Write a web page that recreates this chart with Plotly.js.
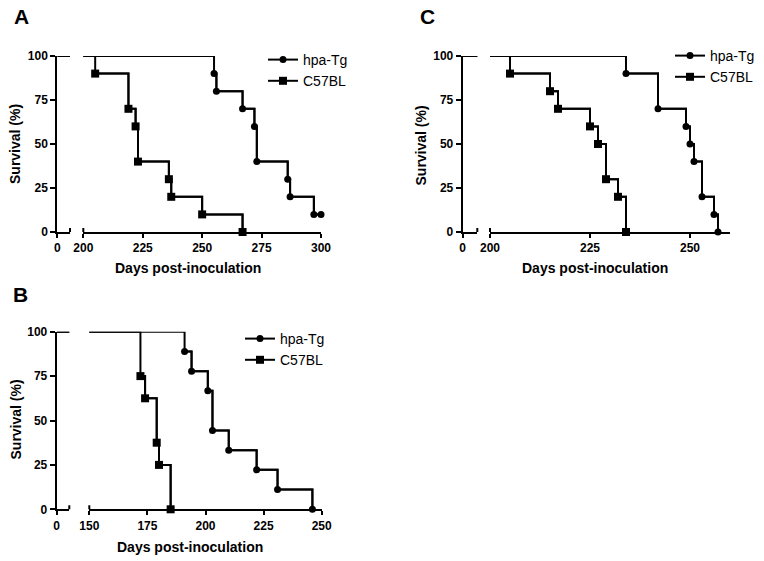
<!DOCTYPE html>
<html>
<head>
<meta charset="utf-8">
<script src="https://cdn.plot.ly/plotly-3.0.1.min.js"></script>
<style>html,body{margin:0;padding:0;background:#fff}#chart{width:764px;height:561px}</style>
</head>
<body>
<div id="chart"></div>
<script>
// ---------- DATA ----------
const seriesNames = ["hpa-Tg", "C57BL"];
const yTicks = [0, 25, 50, 75, 100];

// Panel A
const A_hpa_days = [0, 255, 256, 267, 272, 273, 286, 287, 297, 300];
const A_hpa_surv = [100, 90, 80, 70, 60, 40, 30, 20, 10, 10];
const A_c57_days = [0, 205, 219, 222, 223, 236, 237, 250, 267];
const A_c57_surv = [100, 90, 70, 60, 40, 30, 20, 10, 0];
const A_xTicks = [200, 225, 250, 275, 300];

// Panel B
const B_hpa_days = [0, 191, 194, 201, 203, 210, 222, 231, 246];
const B_hpa_surv = [100, 88.9, 77.8, 66.7, 44.4, 33.3, 22.2, 11.1, 0];
const B_c57_days = [0, 172, 174, 179, 180, 185];
const B_c57_surv = [100, 75, 62.5, 37.5, 25, 0];
const B_xTicks = [150, 175, 200, 225, 250];

// Panel C
const C_hpa_days = [0, 234, 242, 249, 250, 251, 253, 256, 257];
const C_hpa_surv = [100, 90, 70, 60, 50, 40, 20, 10, 0];
const C_c57_days = [0, 205, 215, 217, 225, 227, 229, 232, 234];
const C_c57_surv = [100, 90, 80, 70, 60, 50, 30, 20, 0];
const C_xTicks = [200, 225, 250];

// ---------- LAYOUT HELPERS ----------
const W = 764, H = 561;
const fx = p => p / W;
const fy = p => 1 - p / H;
const FONT = "Arial, 'Liberation Sans', sans-serif";

const panels = [
  { letter: "A", letterPos: [21, 16], yTop: 56, yBot: 232, yAxisX: 57.3, breakX: 70, mainL: 83.3, mainR: 321,
    range: [200, 300], xTicks: A_xTicks, hpa: [A_hpa_days, A_hpa_surv], c57: [A_c57_days, A_c57_surv],
    xTitle: [188, 268], yTitle: [15, 144], legendPos: [263, 44] },
  { letter: "B", letterPos: [20, 294], yTop: 331.7, yBot: 509.3, yAxisX: 56.7, breakX: 69.3, mainL: 89.3, mainR: 321.7,
    range: [150, 250], xTicks: B_xTicks, hpa: [B_hpa_days, B_hpa_surv], c57: [B_c57_days, B_c57_surv],
    xTitle: [190, 547], yTitle: [15.5, 420], legendPos: [240, 323] },
  { letter: "C", letterPos: [427, 16], yTop: 56, yBot: 232, yAxisX: 462.7, breakX: 477.3, mainL: 490, mainR: 730,
    range: [200, 260], xTicks: C_xTicks, hpa: [C_hpa_days, C_hpa_surv], c57: [C_c57_days, C_c57_surv],
    xTitle: [595, 268], yTitle: [420.5, 146], legendPos: [670, 40] }
];

const axisCommon = {
  showline: true, linecolor: "#000", linewidth: 2,
  ticks: "outside", tickcolor: "#000", tickwidth: 2, ticklen: 4,
  showgrid: false, zeroline: false, fixedrange: true,
  tickfont: { family: FONT, size: 12, color: "#000", weight: "bold" }
};

const data = [];
const layout = {
  width: W, height: H, margin: { l: 0, r: 0, t: 0, b: 0 },
  paper_bgcolor: "#fff", plot_bgcolor: "rgba(0,0,0,0)",
  showlegend: true, shapes: [], annotations: [],
  font: { family: FONT, color: "#000" }
};

panels.forEach((p, i) => {
  const n = i + 1;
  const xs = 2 * i + 1, xm = 2 * i + 2;
  const xsId = xs === 1 ? "x" : "x" + xs;
  const xmId = "x" + xm;
  const yId = n === 1 ? "y" : "y" + n;
  const xsKey = xs === 1 ? "xaxis" : "xaxis" + xs;
  const xmKey = "xaxis" + xm;
  const yKey = n === 1 ? "yaxis" : "yaxis" + n;
  const legKey = n === 1 ? "legend" : "legend" + n;

  layout[yKey] = Object.assign({}, axisCommon, {
    domain: [fy(p.yBot), fy(p.yTop)], range: [0, 100], anchor: xsId,
    tickvals: yTicks, ticklen: 5
  });
  layout[xsKey] = Object.assign({}, axisCommon, {
    domain: [fx(p.yAxisX), fx(p.breakX)], range: [0, 10], anchor: yId,
    tickvals: [0]
  });
  layout[xmKey] = Object.assign({}, axisCommon, {
    domain: [fx(p.mainL), fx(p.mainR)], range: p.range, anchor: yId,
    tickvals: p.xTicks
  });

  // break caps
  layout.shapes.push(
    { type: "line", xref: xsId + " domain", x0: 1, x1: 1, yref: yId, ysizemode: "pixel", yanchor: 0, y0: -4, y1: 4,
      line: { color: "#000", width: 2 } },
    { type: "line", xref: xmId + " domain", x0: 0, x1: 0, yref: yId, ysizemode: "pixel", yanchor: 0, y0: -4, y1: 4,
      line: { color: "#000", width: 2 } }
  );

  [[p.hpa, "circle", 7, seriesNames[0]], [p.c57, "square", 8, seriesNames[1]]].forEach(([ser, sym, sz, name]) => {
    const [days, surv] = ser;
    // line on the short "0" segment
    data.push({ x: days, y: surv, xaxis: xsId, yaxis: yId, mode: "lines", line: { shape: "hv", color: "#000", width: 2 },
      showlegend: false, hoverinfo: "skip" });
    // full step line on main segment
    data.push({ x: days, y: surv, xaxis: xmId, yaxis: yId, mode: "lines", line: { shape: "hv", color: "#000", width: 2 },
      showlegend: false, hoverinfo: "skip" });
    // event markers (legend entry)
    data.push({ x: days.slice(1), y: surv.slice(1), xaxis: xmId, yaxis: yId, mode: "lines+markers", name: name,
      line: { shape: "hv", color: "#000", width: 2 }, marker: { symbol: sym, size: sz, color: "#000" },
      cliponaxis: false, legend: legKey });
  });

  layout[legKey] = {
    x: fx(p.legendPos[0]), y: fy(p.legendPos[1]), xanchor: "left", yanchor: "top",
    bgcolor: "rgba(0,0,0,0)", borderwidth: 0,
    font: { family: FONT, size: 14, color: "#000" }
  };

  layout.annotations.push(
    { text: p.letter, xref: "paper", yref: "paper", x: fx(p.letterPos[0]), y: fy(p.letterPos[1]),
      xanchor: "center", yanchor: "middle", showarrow: false, font: { family: FONT, size: 21, color: "#000", weight: "bold" } },
    { text: "Days post-inoculation", xref: "paper", yref: "paper", x: fx(p.xTitle[0]), y: fy(p.xTitle[1]),
      xanchor: "center", yanchor: "middle", showarrow: false, font: { family: FONT, size: 14, color: "#000", weight: "bold" } },
    { text: "Survival (%)", xref: "paper", yref: "paper", x: fx(p.yTitle[0]), y: fy(p.yTitle[1]), textangle: -90,
      xanchor: "center", yanchor: "middle", showarrow: false, font: { family: FONT, size: 14, color: "#000", weight: "bold" } }
  );
});

Plotly.newPlot("chart", data, layout, { staticPlot: true, displayModeBar: false });
</script>
</body>
</html>
